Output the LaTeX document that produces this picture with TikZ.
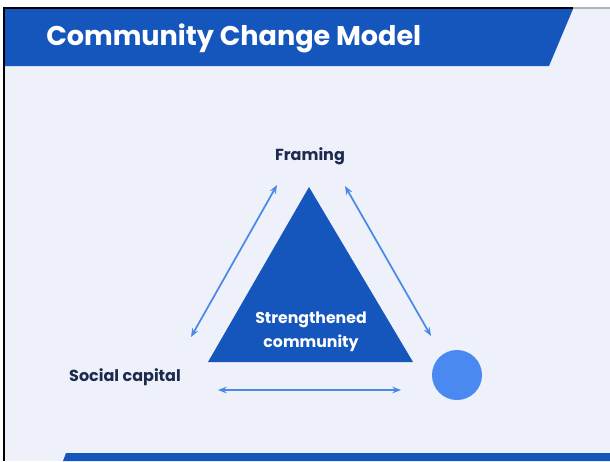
\documentclass[tikz,border=0pt]{standalone}
\usepackage{fontspec}
\setmainfont{Poppins}
\usetikzlibrary{arrows.meta}
\definecolor{bandblue}{RGB}{21,86,189}
\definecolor{linkblue}{RGB}{76,136,230}
\definecolor{dotblue}{RGB}{74,138,240}
\definecolor{inkblue}{RGB}{27,42,78}
\definecolor{paper}{RGB}{238,241,249}
\tikzset{
	label/.style={inner sep=0.75pt, text=inkblue, font=\bfseries\fontsize{12}{14}\selectfont},
	link/.style={draw=linkblue, line width=1.3pt, {Stealth[length=6.5pt,width=5pt]}-{Stealth[length=6.5pt,width=5pt]}}
}
\begin{document}
\begin{tikzpicture}[x=0.75pt,y=0.75pt,yscale=-1,xscale=1]
	\useasboundingbox (0,0) rectangle (610,461);
	\fill[white] (0,0) rectangle (610,461);
	\fill[paper] (4,8) rectangle (610,461);
	% frame
	\draw[line width=1.5pt] (4,461) -- (4,8) -- (573,8);
	\draw[gray!60, line width=0.8pt] (573,8) -- (610,8);
	% header and footer bands
	\fill[bandblue] (5,9) -- (573,9) -- (549,66) -- (5,66) -- cycle;
	\fill[bandblue] (66,453) -- (610,453) -- (610,461) -- (63,461) -- cycle;
	\draw (45,38) node [anchor=west, inner sep=0.75pt, text=white] (title) {\bfseries\fontsize{20.3}{24}\selectfont Community Change Model};
	% triangle
	\coordinate (top) at (309,187);
	\coordinate (bl) at (208,362);
	\coordinate (br) at (413,362);
	\fill[bandblue] (top) -- (br) -- (bl) -- cycle;
	\draw (311,332) node [inner sep=0.75pt, text=white, align=center, font=\bfseries\fontsize{11.8}{18}\selectfont] (core) {Strengthened\\community};
	% corners
	\draw (310,156) node [label] (framing) {Framing};
	\draw (125,377) node [label] (social) {Social capital};
	\fill[dotblue] (457,375) circle (25) node (dot) {};
	% links
	\coordinate (la) at (277,185);
	\coordinate (lb) at (191,337);
	\coordinate (ra) at (345,186);
	\coordinate (rb) at (431,336);
	\coordinate (ba) at (218,390);
	\coordinate (bb) at (401,390);
	\draw[link] (lb) -- (la);
	\draw[link] (ra) -- (rb);
	\draw[link] (ba) -- (bb);
\end{tikzpicture}
\end{document}
